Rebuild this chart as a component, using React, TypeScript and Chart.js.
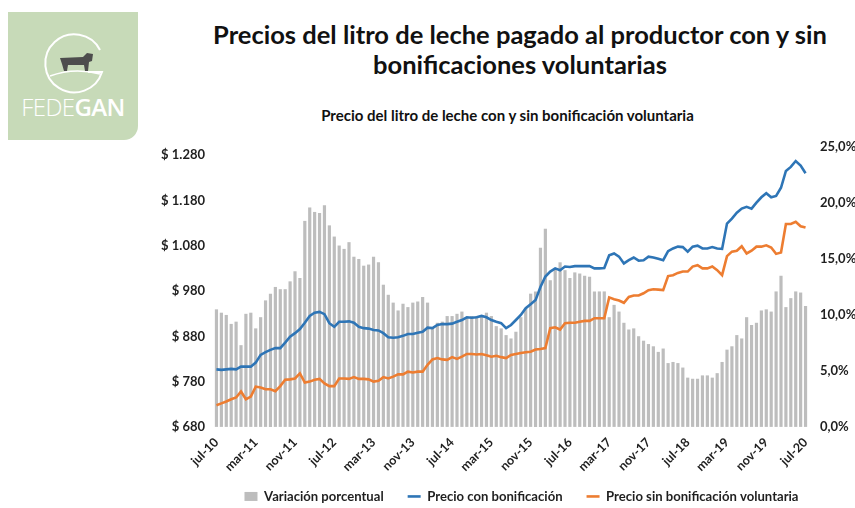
import React, { useEffect, useRef } from "react";
import { Chart, registerables } from "chart.js";
Chart.register(...registerables);

const MONTHS = ["ene", "feb", "mar", "abr", "may", "jun", "jul", "ago", "sep", "oct", "nov", "dic"];
const YEARS = [10, 11, 12, 13, 14, 15, 16, 17, 18, 19, 20];
// monthly categories jul-10 ... jul-20
const categories: string[] = [];
YEARS.forEach((y) => {
  MONTHS.forEach((m, mi) => {
    if ((y === 10 && mi < 6) || (y === 20 && mi > 6)) return;
    categories.push(`${m}-${y}`);
  });
});

// Variación porcentual (%)
const variacion = [
  10.5, 10.2, 10.0, 9.2, 9.4, 7.3, 10.1, 10.2, 8.8, 9.8,
  11.3, 11.9, 12.5, 12.3, 12.3, 13.0, 13.9, 13.3, 18.4, 19.6,
  19.2, 19.1, 19.8, 18.0, 17.0, 16.2, 15.9, 16.5, 15.2, 15.0,
  14.4, 14.5, 15.2, 14.7, 12.7, 11.8, 11.1, 10.4, 11.0, 10.7,
  11.1, 11.2, 11.6, 11.1, 8.9, 9.3, 9.4, 9.9, 9.9, 10.1,
  10.3, 9.8, 9.9, 9.9, 9.9, 10.2, 9.9, 9.0, 8.8, 8.2,
  7.9, 8.5, 9.8, 10.6, 11.9, 12.1, 16.0, 17.7, 13.1, 14.2,
  14.7, 14.0, 13.3, 13.8, 13.7, 13.5, 13.4, 12.1, 12.1, 12.1,
  9.8, 10.9, 10.3, 9.3, 8.7, 8.8, 8.1, 7.7, 7.4, 7.2,
  6.7, 7.0, 5.7, 5.8, 5.7, 5.3, 4.4, 4.3, 4.3, 4.6,
  4.6, 4.4, 4.8, 5.8, 6.9, 7.2, 8.2, 7.9, 9.8, 9.1,
  9.3, 10.4, 10.5, 10.3, 12.1, 13.5, 10.7, 11.5, 12.1, 12.0,
  10.8,
];

// Precio con bonificación ($)
const conBonificacion = [
  807, 806, 807, 808, 807, 813, 813, 813, 822, 839,
  845, 850, 854, 854, 866, 879, 887, 896, 910, 925,
  932, 934, 929, 909, 901, 912, 912, 913, 910, 901,
  898, 897, 894, 893, 887, 878, 877, 878, 881, 885,
  885, 888, 890, 899, 898, 905, 907, 907, 908, 912,
  916, 922, 921, 922, 925, 922, 916, 912, 909, 898,
  905, 916, 927, 942, 951, 960, 989, 1012, 1023, 1030,
  1026, 1034, 1033, 1035, 1035, 1035, 1035, 1030, 1030, 1031,
  1059, 1063, 1056, 1041, 1048, 1054, 1047, 1048, 1056, 1054,
  1051, 1048, 1068, 1074, 1078, 1077, 1067, 1078, 1080, 1074,
  1074, 1077, 1074, 1073, 1129, 1140, 1153, 1162, 1166, 1162,
  1175, 1187, 1196, 1187, 1190, 1208, 1245, 1254, 1267, 1257,
  1240,
];

// Precio sin bonificación voluntaria ($)
const sinBonificacion = [
  728, 732, 736, 741, 745, 758, 741, 747, 769, 767,
  763, 763, 759, 770, 784, 785, 787, 798, 778, 780,
  784, 786, 776, 770, 770, 787, 787, 786, 790, 786,
  786, 785, 780, 782, 790, 787, 791, 796, 796, 802,
  800, 802, 802, 817, 829, 832, 829, 828, 834, 830,
  835, 841, 841, 840, 841, 838, 835, 837, 834, 832,
  839, 841, 843, 845, 846, 851, 852, 854, 898, 900,
  895, 909, 910, 910, 912, 914, 914, 920, 920, 920,
  966, 962, 959, 954, 967, 970, 970, 975, 982, 984,
  983, 982, 1013, 1015, 1020, 1023, 1023, 1034, 1037, 1030,
  1030, 1034, 1026, 1015, 1057, 1067, 1069, 1079, 1063, 1069,
  1078, 1078, 1081, 1076, 1062, 1065, 1128, 1128, 1133, 1123,
  1120,
];

const priceTicks = [680, 780, 880, 980, 1080, 1180, 1280];
const pctTicks = [0, 5, 10, 15, 20, 25];

const FONT = "Lato, 'Open Sans', sans-serif";
const TEXT = "#1f1f1f";
const GREY = "#bdbdbd";
const BLUE = "#2e75b6";
const ORANGE = "#ed7d31";

function fmtPrice(v: number) {
  if (v >= 1000) {
    return "$ " + Math.floor(v / 1000) + "." + String(v % 1000).padStart(3, "0");
  }
  return "$ " + v;
}

// nudges the legend block to sit where the reference places it
const legendNudge = {
  id: "legendNudge",
  afterLayout(chart: any) {
    const lg = chart.legend;
    if (!lg) return;
    lg.left += 17;
    lg.right += 17;
    lg.top -= 9;
    lg.bottom -= 9;
  },
};

export default function App() {
  const ref = useRef<HTMLCanvasElement>(null);

  useEffect(() => {
    const chart = new Chart(ref.current!, {
      type: "bar",
      data: {
        labels: categories,
        datasets: [
          {
            type: "bar",
            label: "Variación porcentual",
            data: variacion,
            yAxisID: "y1",
            backgroundColor: GREY,
            barPercentage: 0.65,
            categoryPercentage: 1,
            order: 2,
          } as any,
          {
            type: "line",
            label: "Precio con bonificación",
            data: conBonificacion,
            yAxisID: "y",
            borderColor: BLUE,
            backgroundColor: BLUE,
            borderWidth: 2.6,
            pointRadius: 0,
            tension: 0,
            order: 0,
          } as any,
          {
            type: "line",
            label: "Precio sin bonificación voluntaria",
            data: sinBonificacion,
            yAxisID: "y",
            borderColor: ORANGE,
            backgroundColor: ORANGE,
            borderWidth: 2.6,
            pointRadius: 0,
            tension: 0,
            order: 1,
          } as any,
        ],
      },
      plugins: [legendNudge],
      options: {
        animation: false,
        responsive: false,
        maintainAspectRatio: false,
        layout: { padding: { left: 154, right: 0, top: 22, bottom: 0 } },
        scales: {
          x: {
            grid: { display: false, drawTicks: false },
            border: { display: false },
            ticks: {
              autoSkip: false,
              maxRotation: 45,
              minRotation: 45,
              padding: 8,
              color: TEXT,
              font: { family: FONT, size: 12.5, weight: "bold" },
              callback: (_v: any, i: number) => (i % 8 === 0 ? categories[i] : ""),
            },
            afterFit: (s: any) => {
              s.height = 48;
            },
          },
          y: {
            position: "left",
            min: 680,
            max: 1298,
            grid: { display: false, drawTicks: false },
            border: { display: false },
            afterBuildTicks: (s: any) => {
              s.ticks = priceTicks.map((v) => ({ value: v }));
            },
            ticks: {
              padding: 9,
              color: TEXT,
              font: { family: FONT, size: 13, weight: "bold" },
              callback: (v: any) => fmtPrice(Number(v)),
            },
            afterFit: (s: any) => {
              s.width = 60;
            },
          },
          y1: {
            position: "right",
            min: 0,
            max: 25,
            grid: { display: false, drawTicks: false },
            border: { display: false },
            afterBuildTicks: (s: any) => {
              s.ticks = pctTicks.map((v) => ({ value: v }));
            },
            ticks: {
              padding: 12,
              color: TEXT,
              font: { family: FONT, size: 13, weight: "bold" },
              callback: (v: any) => Number(v).toFixed(1).replace(".", ",") + "%",
            },
            afterFit: (s: any) => {
              s.width = 47;
            },
          },
        },
        plugins: {
          tooltip: { enabled: false },
          legend: {
            position: "bottom",
            labels: {
              usePointStyle: true,
              pointStyleWidth: 13,
              boxHeight: 9,
              padding: 24,
              color: TEXT,
              font: { family: FONT, size: 13.1, weight: "bold" },
              generateLabels: () => [
                {
                  text: "Variación porcentual",
                  fillStyle: GREY,
                  strokeStyle: GREY,
                  lineWidth: 0,
                  pointStyle: "rect",
                  fontColor: TEXT,
                  datasetIndex: 0,
                } as any,
                {
                  text: "Precio con bonificación",
                  fillStyle: BLUE,
                  strokeStyle: BLUE,
                  lineWidth: 2.6,
                  pointStyle: "line",
                  fontColor: TEXT,
                  datasetIndex: 1,
                } as any,
                {
                  text: "Precio sin bonificación voluntaria",
                  fillStyle: ORANGE,
                  strokeStyle: ORANGE,
                  lineWidth: 2.6,
                  pointStyle: "line",
                  fontColor: TEXT,
                  datasetIndex: 2,
                } as any,
              ],
            },
          },
        },
      },
    });
    return () => chart.destroy();
  }, []);

  return (
    <div
      style={{
        position: "absolute",
        left: 0,
        top: 0,
        width: 855,
        height: 508,
        background: "#ffffff",
        overflow: "hidden",
        fontFamily: FONT,
      }}
    >
      {/* Logo */}
      <div
        style={{
          position: "absolute",
          left: 8,
          top: 12,
          width: 130,
          height: 128,
          background: "#c7dab8",
          borderBottomRightRadius: 14,
        }}
      >
        <svg width="130" height="90" style={{ position: "absolute", left: 0, top: 0 }}>
          <path
            d="M 92 38 A 29 29 0 1 0 94 60 L 80 60"
            fill="none"
            stroke="#ffffff"
            strokeWidth="2"
          />
          <path d="M 42 64 Q 66 55 92 62" fill="none" stroke="#ffffff" strokeWidth="1.6" />
          <path
            d="M 52 46 L 75 45 L 79 41 L 85 42 L 84 49 L 81 50 L 80 59 L 77 59 L 76 53 L 60 53 L 59 59 L 56 59 L 54 52 Z"
            fill="#4d4d4d"
          />
        </svg>
        <div
          style={{
            position: "absolute",
            left: 0,
            top: 78,
            width: 130,
            textAlign: "center",
            color: "#ffffff",
            fontSize: 24,
            letterSpacing: -0.6,
            fontFamily: "'Open Sans', Lato, sans-serif",
          }}
        >
          <span style={{ fontWeight: 300 }}>FEDE</span>
          <span style={{ fontWeight: 600 }}>GAN</span>
        </div>
      </div>

      {/* Title */}
      <div
        style={{
          position: "absolute",
          left: 185,
          top: 19,
          width: 670,
          textAlign: "center",
          fontWeight: 700,
          fontSize: 25.5,
          lineHeight: "30px",
          color: "#111",
        }}
      >
        Precios del litro de leche pagado al productor con y sin
        <br />
        bonificaciones voluntarias
      </div>

      {/* Subtitle */}
      <div
        style={{
          position: "absolute",
          left: 185,
          top: 106,
          width: 645,
          textAlign: "center",
          fontWeight: 700,
          fontSize: 15,
          color: "#111",
        }}
      >
        Precio del litro de leche con y sin bonificación voluntaria
      </div>

      <canvas
        ref={ref}
        width={855}
        height={397}
        style={{ position: "absolute", left: 0, top: 125, width: 855, height: 397 }}
      />
    </div>
  );
}
